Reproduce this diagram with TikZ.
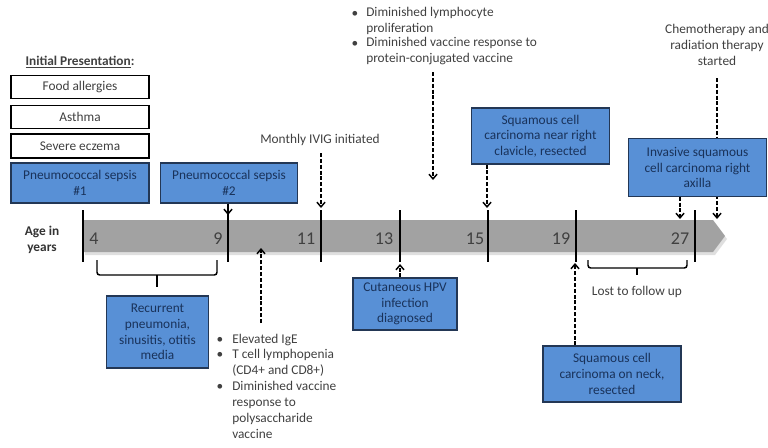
\documentclass[tikz,border=0pt]{standalone}
\usepackage{fontspec}
\setmainfont{Carlito}
\usetikzlibrary{arrows.meta}
\definecolor{txt}{RGB}{64,64,64}
\definecolor{boxblue}{RGB}{88,144,214}
\definecolor{boxline}{RGB}{35,55,85}
\definecolor{boxtxt}{RGB}{25,50,90}
\definecolor{bargray}{RGB}{162,162,162}
\tikzset{
  base/.style={font=\fontsize{10}{11.8}\selectfont, text=txt, inner sep=0pt},
  whitebox/.style={base, draw=black, line width=0.8pt, fill=white, minimum width=103.5pt, align=center},
  bluebox/.style={base, text=boxtxt, draw=boxline, line width=0.8pt, fill=boxblue, align=center},
  agenum/.style={font=\fontsize{13.5}{14}\selectfont, text=txt, inner sep=0pt},
  tick/.style={line width=1.4pt, black},
  dasharrow/.style={line width=1.1pt, dash pattern=on 3pt off 1.4pt, -{Straight Barb[length=3.5pt,width=6pt,line width=1.1pt]}},
  solidarrow/.style={line width=1.1pt, -{Straight Barb[length=3.5pt,width=6pt,line width=1.1pt]}},
  bracket/.style={line width=1.1pt, rounded corners=2pt},
  blist/.style={base, align=left, anchor=west},
}
\begin{document}
\begin{tikzpicture}[x=0.75pt,y=-0.75pt]
\useasboundingbox (0,0) rectangle (768,447);

% timeline bar
\fill[gray!25] (85,223) -- (715,223) -- (727,239) -- (715,255) -- (85,255) -- cycle;
\fill[bargray] (83,220) -- (713,220) -- (725,236) -- (713,252) -- (83,252) -- cycle;

% tick coordinates
\coordinate (t4t) at (83,210);  \coordinate (t4b) at (83,262);
\coordinate (t9t) at (228,210); \coordinate (t9b) at (228,262);
\coordinate (t11t) at (321,210); \coordinate (t11b) at (321,262);
\coordinate (t13t) at (400,210); \coordinate (t13b) at (400,262);
\coordinate (t15t) at (488,210); \coordinate (t15b) at (488,262);
\coordinate (t19t) at (576,210); \coordinate (t19b) at (576,262);
\coordinate (t27t) at (695,210); \coordinate (t27b) at (695,262);
\foreach \n in {4,9,11,13,15,19,27}{\draw[tick] (t\n t) -- (t\n b);}

% age labels
\node[base, font=\fontsize{10}{11.5}\selectfont\bfseries, text=black!80, align=center] (age) at (42,240) {Age in\\years};
\node[agenum] (n4) at (94,239) {4};
\node[agenum] (n9) at (218,239) {9};
\node[agenum] (n11) at (306,239) {11};
\node[agenum] (n13) at (384,239) {13};
\node[agenum] (n15) at (475,239) {15};
\node[agenum] (n19) at (561,239) {19};
\node[agenum] (n27) at (680,239) {27};

% initial presentation
\node[base, font=\fontsize{10}{12}\selectfont\bfseries] (ip) at (80,62) {\underline{Initial Presentation}:};
\node[whitebox, minimum height=17.5pt] (food) at (80,87) {Food allergies};
\node[whitebox, minimum height=17.5pt] (asthma) at (80,117) {Asthma};
\node[whitebox, minimum height=18pt] (eczema) at (80,146) {Severe eczema};

% blue boxes
\node[bluebox, minimum width=103.5pt, minimum height=30pt] (sep1) at (80,183) {Pneumococcal sepsis\\\#1};
\node[bluebox, minimum width=103pt, minimum height=30pt] (sep2) at (229,183) {Pneumococcal sepsis\\\#2};
\node[bluebox, minimum width=76pt, minimum height=54pt] (rec) at (157.5,332) {Recurrent\\pneumonia,\\sinusitis, otitis\\media};
\node[bluebox, minimum width=78pt, minimum height=39pt] (hpv) at (405,304) {Cutaneous HPV\\infection\\diagnosed};
\node[bluebox, minimum width=103pt, minimum height=42pt] (clav) at (540.5,136) {Squamous cell\\carcinoma near right\\clavicle, resected};
\node[bluebox, minimum width=103.5pt, minimum height=42pt] (neck) at (612,374) {Squamous cell\\carcinoma on neck,\\resected};

% chemo line drawn behind the invasive box
\node[base, align=center] (chemo) at (717,45) {Chemotherapy and\\radiation therapy\\started};
\coordinate (chemostart) at (717,78);
\coordinate (chemoend) at (717,219);
\draw[dasharrow] (chemostart) -- (chemoend);
\node[bluebox, minimum width=104pt, minimum height=43pt] (inv) at (697.5,167.5) {Invasive squamous\\cell carcinoma right\\axilla};

% top labels
\node[base] (ivig) at (320,140) {Monthly IVIG initiated};
\node[base] (b1) at (355,14) {•};
\node[blist] (l1) at (366,21) {Diminished lymphocyte\\proliferation};
\node[base] (b2) at (355,44) {•};
\node[blist] (l2) at (366,51) {Diminished vaccine response to\\protein-conjugated vaccine};

% bottom bullet list
\node[base] (b3) at (220,340) {•};
\node[blist] (g1) at (232,340) {Elevated IgE};
\node[base] (b4) at (220,355) {•};
\node[blist] (g2) at (232,362.5) {T cell lymphopenia\\(CD4+ and CD8+)};
\node[base] (b5) at (220,387) {•};
\node[blist] (g3) at (232,410) {Diminished vaccine\\response to\\polysaccharide\\vaccine};

% lost to follow up
\node[base] (lost) at (637,292) {Lost to follow up};

% arrows
\coordinate (ivigstart) at (321,153);
\coordinate (ivigend) at (321,208);
\draw[dasharrow] (ivigstart) -- (ivigend);
\coordinate (lymphstart) at (433,72);
\coordinate (lymphend) at (433,180);
\draw[dasharrow] (lymphstart) -- (lymphend);
\coordinate (clavend) at (487,208);
\draw[dasharrow] (clav.south -| clavend) -- (clavend);
\coordinate (invend) at (680,219);
\draw[dasharrow] (inv.south -| invend) -- (invend);
\coordinate (sep2end) at (228,215);
\draw[solidarrow] (sep2.south -| sep2end) -- (sep2end);
\draw[tick] (sep2.south -| t9t) -- (t9t);

\coordinate (igestart) at (261,323);
\coordinate (igeend) at (261,248);
\draw[dasharrow] (igestart) -- (igeend);
\coordinate (hpvend) at (400,264);
\draw[dasharrow] (hpv.north -| hpvend) -- (hpvend);
\coordinate (neckend) at (575,263);
\draw[dasharrow] (neck.north -| neckend) -- (neckend);

% brackets
\draw[bracket] (97,260) -- (97,275) -- (217,275) -- (217,260);
\draw[line width=1.1pt] (157,275) -- (157,287);
\draw[bracket] (588,260) -- (588,268) -- (687,268) -- (687,260);
\draw[line width=1.1pt] (637,268) -- (637,275);
\end{tikzpicture}
\end{document}
